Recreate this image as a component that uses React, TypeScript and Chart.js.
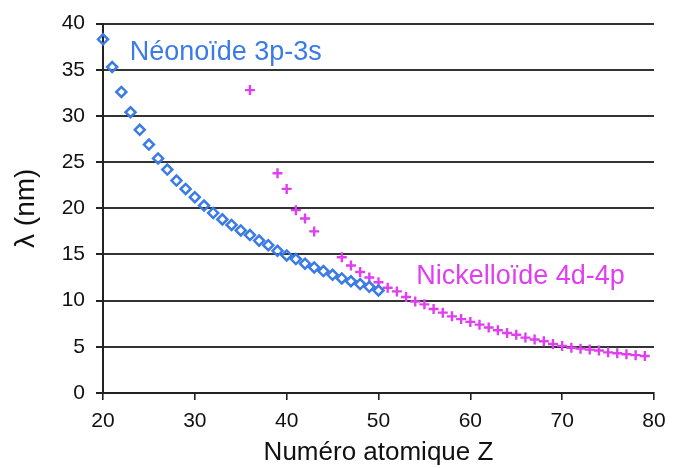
import React, { useEffect, useRef } from "react";
import { Chart, registerables } from "chart.js";

Chart.register(...registerables);

// Néonoïde 3p-3s (diamonds)
const neonZ = [20, 21, 22, 23, 24, 25, 26, 27, 28, 29, 30, 31, 32, 33, 34, 35, 36, 37, 38, 39, 40, 41, 42, 43, 44, 45, 46, 47, 48, 49, 50];
const neonLambda = [38.3, 35.3, 32.6, 30.4, 28.5, 26.9, 25.4, 24.2, 23.0, 22.1, 21.2, 20.3, 19.5, 18.8, 18.2, 17.6, 17.1, 16.5, 16.0, 15.4, 14.9, 14.5, 14.0, 13.6, 13.2, 12.8, 12.4, 12.1, 11.8, 11.5, 11.1];

// Nickelloïde 4d-4p (crosses)
const nickZ = [36, 39, 40, 41, 42, 43, 46, 47, 48, 49, 50, 51, 52, 53, 54, 55, 56, 57, 58, 59, 60, 61, 62, 63, 64, 65, 66, 67, 68, 69, 70, 71, 72, 73, 74, 75, 76, 77, 78, 79];
const nickLambda = [32.8, 23.8, 22.1, 19.8, 18.9, 17.5, 14.7, 13.8, 13.1, 12.5, 12.0, 11.4, 11.0, 10.4, 9.9, 9.6, 9.1, 8.7, 8.3, 8.0, 7.7, 7.4, 7.1, 6.8, 6.5, 6.3, 6.0, 5.8, 5.6, 5.3, 5.1, 4.9, 4.8, 4.7, 4.6, 4.4, 4.3, 4.2, 4.1, 4.0];

const seriesNames = ["Néonoïde 3p-3s", "Nickelloïde 4d-4p"];
const xTitle = "Numéro atomique Z";
const yTitle = "λ (nm)";

const BLUE = "#3b7be6";
const MAGENTA = "#df3ff0";
const FONT = "'Liberation Sans', Arial, sans-serif";

// label anchors (data coordinates, left/baseline)
const neonLabelAt = { x: 22.9, y: 36.1 };
const nickLabelAt = { x: 54.1, y: 11.8 };

const labelPlugin = {
  id: "seriesLabels",
  afterDatasetsDraw(chart: any) {
    const { ctx, scales } = chart;
    const xs = scales.x;
    const ys = scales.y;
    ctx.save();
    ctx.font = `27px ${FONT}`;
    ctx.textAlign = "left";
    ctx.textBaseline = "alphabetic";
    ctx.fillStyle = BLUE;
    ctx.fillText(seriesNames[0], xs.getPixelForValue(neonLabelAt.x), ys.getPixelForValue(neonLabelAt.y));
    ctx.fillStyle = MAGENTA;
    ctx.fillText(seriesNames[1], xs.getPixelForValue(nickLabelAt.x), ys.getPixelForValue(nickLabelAt.y));
    ctx.restore();
  },
};

export default function App() {
  const ref = useRef<HTMLCanvasElement>(null);
  useEffect(() => {
    if (!ref.current) return;
    const chart = new Chart(ref.current, {
      type: "scatter",
      data: {
        datasets: [
          {
            label: seriesNames[0],
            data: neonZ.map((z, i) => ({ x: z, y: neonLambda[i] })),
            pointStyle: "rectRot",
            pointRadius: 5,
            borderWidth: 2.5,
            borderColor: BLUE,
            backgroundColor: "rgba(0,0,0,0)",
            clip: false,
          },
          {
            label: seriesNames[1],
            data: nickZ.map((z, i) => ({ x: z, y: nickLambda[i] })),
            pointStyle: "cross",
            pointRadius: 5,
            borderWidth: 2.4,
            borderColor: MAGENTA,
            backgroundColor: MAGENTA,
            clip: false,
          },
        ],
      },
      options: {
        responsive: false,
        animation: false,
        layout: { padding: { left: 0, right: 23, top: 20, bottom: 0 } },
        plugins: { legend: { display: false }, tooltip: { enabled: false } },
        scales: {
          x: {
            type: "linear",
            min: 20,
            max: 80,
            afterFit: (s: any) => { s.height = 75; },
            ticks: { stepSize: 10, color: "#111", font: { family: FONT, size: 21 }, padding: 9 },
            grid: { display: true, drawOnChartArea: false, drawTicks: true, tickLength: 7, color: "#222", lineWidth: 1.6 },
            border: { display: true, color: "#222", width: 2 },
            title: { display: true, text: xTitle, color: "#111", font: { family: FONT, size: 26 }, padding: { top: 0, bottom: 0 } },
          },
          y: {
            type: "linear",
            min: 0,
            max: 40,
            afterFit: (s: any) => { s.width = 103; },
            ticks: { stepSize: 5, color: "#111", font: { family: FONT, size: 21 }, padding: 11 },
            grid: { display: true, drawTicks: true, tickLength: 7, color: "#333", tickColor: "#222", lineWidth: 2 },
            border: { display: true, color: "#222", width: 2 },
            title: { display: true, text: yTitle, color: "#111", font: { family: FONT, size: 28 }, padding: { top: 9, bottom: 0 } },
          },
        },
      },
      plugins: [labelPlugin],
    });
    return () => chart.destroy();
  }, []);
  return (
    <div style={{ position: "absolute", left: 0, top: 0, width: 677, height: 468, background: "#fff" }}>
      <canvas ref={ref} width={677} height={468} style={{ display: "block" }} />
    </div>
  );
}
